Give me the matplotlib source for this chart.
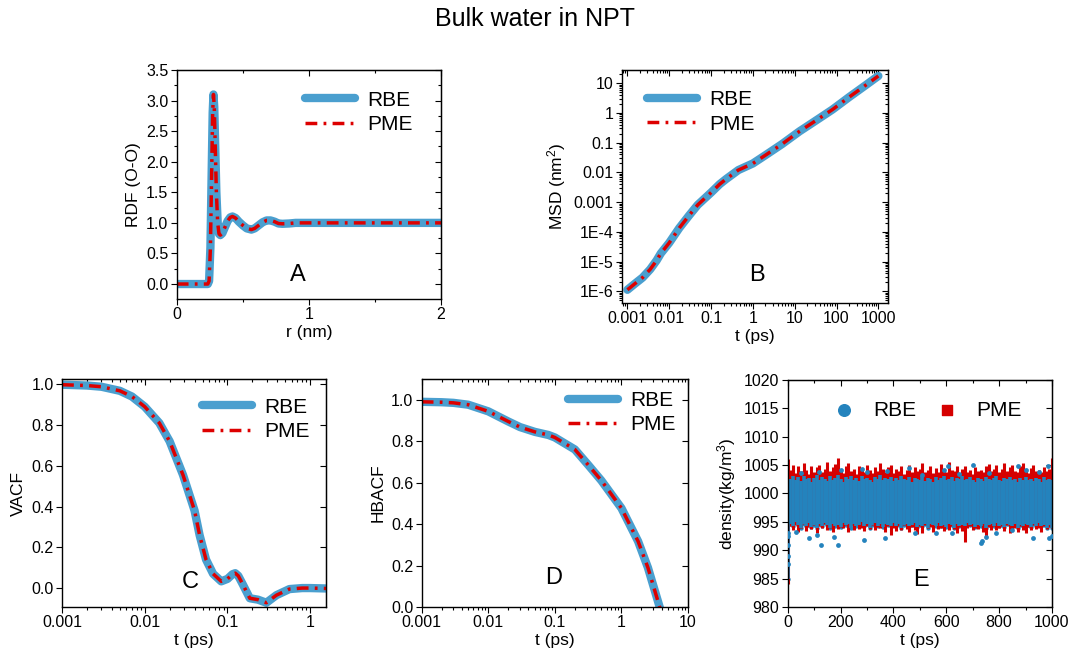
import numpy as np
import matplotlib
matplotlib.use("Agg")
import matplotlib.pyplot as plt

plt.rcParams['font.family'] = ['Liberation Sans', 'DejaVu Sans']
plt.rcParams['mathtext.fontset'] = 'custom'
plt.rcParams['mathtext.rm'] = 'Liberation Sans'
plt.rcParams['mathtext.it'] = 'Liberation Sans:italic'

# --- A: radial distribution function O-O
rdf_r = [0.0, 0.235, 0.245, 0.255, 0.265, 0.272, 0.278, 0.284, 0.292, 0.300,
         0.310, 0.320, 0.330, 0.345, 0.365, 0.385, 0.405, 0.422, 0.445, 0.47,
         0.50, 0.53, 0.565, 0.59, 0.62, 0.65, 0.68, 0.71, 0.74, 0.77,
         0.80, 0.85, 0.90, 1.0, 2.0]
rdf_g = [0.0, 0.0, 0.05, 0.6, 1.9, 2.8, 3.1, 2.9, 2.2, 1.5,
         1.0, 0.82, 0.80, 0.83, 0.93, 1.03, 1.09, 1.105, 1.08, 1.02,
         0.96, 0.91, 0.89, 0.91, 0.96, 1.01, 1.04, 1.04, 1.02, 0.99,
         0.985, 0.99, 1.0, 1.0, 1.0]

# --- B: mean square displacement
msd_t = [0.001, 0.0015, 0.0023, 0.0035, 0.005, 0.0063, 0.01, 0.0174, 0.03, 0.048,
         0.1, 0.16, 0.23, 0.45, 1, 2, 5, 13, 30, 80, 200, 500, 1000]
msd_v = [1.13e-6, 1.8e-6, 2.9e-6, 5.5e-6, 1.1e-5, 1.9e-5, 4.3e-5, 1.35e-4, 3.6e-4, 8.1e-4,
         2.1e-3, 4.0e-3, 6.0e-3, 1.2e-2, 2.0e-2, 3.8e-2, 9.0e-2, 0.24, 0.52, 1.3, 3.4, 8.6, 17.5]

# --- C: velocity autocorrelation
vacf_t = [0.001, 0.002, 0.003, 0.005, 0.007, 0.01, 0.015, 0.02, 0.029, 0.04,
          0.046, 0.055, 0.067, 0.084, 0.1, 0.115, 0.124, 0.135, 0.154, 0.186,
          0.234, 0.295, 0.39, 0.56, 0.8, 1.0, 1.55]
vacf_v = [0.998, 0.994, 0.988, 0.968, 0.94, 0.89, 0.81, 0.72, 0.555, 0.38,
          0.26, 0.14, 0.07, 0.033, 0.045, 0.068, 0.073, 0.06, 0.016, -0.05,
          -0.057, -0.072, -0.035, -0.005, 0.0, 0.0, -0.002]

# --- D: hydrogen bond autocorrelation
hb_t = [0.001, 0.002, 0.003, 0.005, 0.01, 0.02, 0.03, 0.05, 0.08, 0.1,
        0.2, 0.316, 0.5, 1.0, 1.78, 2.5, 3.3, 3.75, 4.0]
hb_v = [0.99, 0.988, 0.985, 0.976, 0.944, 0.895, 0.868, 0.845, 0.83, 0.818,
        0.76, 0.686, 0.61, 0.477, 0.317, 0.19, 0.06, 0.0, -0.03]

# --- E: density, envelope every 10 ps
dens_t = np.arange(0, 1001, 10)
pme_hi = [1006.0, 1004.2, 1005.1, 1003.6, 1004.8, 1003.9, 1005.4, 1004.1, 1003.5, 1004.9,
          1003.8, 1004.6, 1005.0, 1003.7, 1004.3, 1005.6, 1003.9, 1004.7, 1005.2, 1006.3,
          1004.0, 1003.6, 1004.8, 1005.3, 1003.9, 1004.4, 1003.5, 1004.9, 1004.1, 1003.7,
          1005.0, 1004.2, 1003.6, 1004.6, 1003.9, 1005.4, 1004.3, 1003.8, 1004.7, 1005.1,
          1003.6, 1004.4, 1003.9, 1004.8, 1003.5, 1004.2, 1005.0, 1003.8, 1004.6, 1003.9,
          1004.4, 1005.3, 1003.7, 1004.1, 1004.9, 1003.6, 1004.5, 1003.8, 1005.2, 1004.0,
          1003.7, 1005.5, 1004.2, 1003.9, 1004.8, 1003.6, 1004.3, 1004.9, 1003.8, 1004.1,
          1003.5, 1004.6, 1003.9, 1004.2, 1003.7, 1004.8, 1005.2, 1003.9, 1004.4, 1005.0,
          1003.8, 1004.3, 1005.4, 1003.9, 1004.7, 1005.1, 1004.0, 1003.7, 1004.9, 1005.3,
          1004.1, 1003.6, 1004.5, 1005.0, 1003.9, 1004.2, 1003.7, 1004.6, 1003.9, 1004.4, 1006.2]
pme_lo = [984.0, 994.2, 993.6, 994.5, 993.2, 994.0, 994.6, 993.4, 994.1, 993.8,
          994.5, 993.1, 994.3, 993.9, 994.6, 993.5, 994.0, 993.3, 994.4, 993.7,
          994.1, 993.9, 994.5, 993.2, 994.2, 993.6, 994.4, 993.8, 994.0, 993.4,
          994.3, 993.7, 994.5, 993.5, 994.1, 993.9, 994.4, 993.3, 994.2, 992.6,
          994.0, 993.4, 994.3, 993.6, 994.5, 993.8, 993.2, 994.1, 993.5, 992.8,
          994.2, 993.0, 994.4, 993.9, 994.1, 993.3, 994.5, 993.7, 994.0, 993.4,
          994.2, 993.6, 994.3, 993.8, 993.1, 994.1, 993.4, 991.5, 993.9, 994.2,
          993.5, 994.0, 993.7, 994.4, 993.2, 992.4, 994.1, 993.6, 994.3, 993.5,
          993.9, 994.2, 993.4, 994.5, 993.1, 993.8, 994.0, 993.3, 994.2, 993.6,
          993.0, 994.1, 993.5, 994.4, 993.8, 994.0, 993.2, 994.3, 993.7, 994.1, 993.9]
rbe_hi = [1002.0, 1002.6, 1003.1, 1002.4, 1002.9, 1002.2, 1003.0, 1002.5, 1002.8, 1002.1,
          1002.7, 1003.2, 1002.3, 1002.9, 1002.6, 1002.2, 1003.0, 1002.4, 1002.8, 1003.3,
          1002.5, 1002.1, 1002.9, 1002.6, 1003.1, 1002.3, 1002.7, 1002.2, 1003.0, 1002.5,
          1002.8, 1002.4, 1002.1, 1002.9, 1002.6, 1003.2, 1002.3, 1002.7, 1002.5, 1002.9,
          1002.2, 1002.8, 1002.4, 1003.0, 1002.6, 1002.3, 1002.9, 1002.1, 1002.7, 1002.5,
          1002.4, 1003.0, 1002.2, 1002.8, 1002.6, 1002.1, 1002.9, 1002.4, 1002.7, 1003.1,
          1002.3, 1002.6, 1002.9, 1002.2, 1002.8, 1002.5, 1003.0, 1002.3, 1002.6, 1002.9,
          1002.4, 1002.1, 1002.8, 1002.5, 1002.2, 1002.9, 1002.6, 1002.3, 1002.7, 1003.0,
          1002.4, 1002.2, 1002.8, 1002.5, 1002.9, 1002.3, 1002.6, 1002.1, 1002.7, 1002.4,
          1002.9, 1002.3, 1002.6, 1002.2, 1002.8, 1002.5, 1002.1, 1002.9, 1002.4, 1002.6, 1002.3]
rbe_lo = [985.0, 994.6, 994.2, 994.9, 994.4, 994.0, 994.7, 994.3, 994.8, 994.1,
          994.5, 993.9, 994.6, 994.2, 994.8, 994.4, 994.0, 994.7, 994.3, 994.5,
          994.1, 994.8, 994.4, 994.6, 994.0, 994.7, 994.3, 994.5, 994.9, 994.2,
          994.6, 994.0, 994.4, 994.8, 994.3, 994.6, 994.1, 994.7, 994.4, 994.2,
          994.8, 994.3, 994.6, 994.0, 994.5, 994.7, 994.2, 994.4, 994.8, 994.1,
          994.5, 994.3, 994.7, 994.0, 994.6, 994.4, 994.2, 994.8, 994.3, 994.5,
          994.1, 994.6, 994.4, 994.0, 994.7, 994.3, 994.5, 994.2, 994.8, 994.4,
          994.6, 994.1, 994.5, 994.3, 994.7, 994.0, 994.4, 994.6, 994.2, 994.8,
          994.3, 994.5, 994.1, 994.7, 994.4, 994.2, 994.6, 994.0, 994.5, 994.3,
          994.7, 994.4, 994.1, 994.6, 994.3, 994.8, 994.2, 994.5, 994.0, 994.4, 993.9]
rbe_out_t = [0, 0, 0, 0, 2, 30, 50, 80, 110, 120, 125, 175, 190, 200, 280, 290, 300, 370, 375, 460,
             480, 510, 560, 590, 605, 620, 650, 700, 730, 735, 750, 760, 790, 850, 870, 900,
             930, 950, 985, 990, 1000]
rbe_out_y = [989.0, 991.0, 993.0, 987.5, 992.5, 993.3, 1003.6, 992.2, 992.7, 1003.8, 991.0, 992.3,
             991.0, 1004.1, 1004.3, 991.8, 1003.7, 992.1, 1004.0, 1004.5, 993.1, 1003.2, 993.0,
             1004.2, 1004.8, 993.1, 1003.5, 1005.0, 991.2, 991.6, 992.4, 1003.6, 993.0, 993.5,
             1004.8, 1004.2, 992.2, 1003.8, 1004.8, 992.1, 992.5]

BLUE = '#4a9fcf'
RED = '#dd0000'
EBLUE = '#2483bd'
ERED = '#d50000'
DASH = (0, (3.4, 1.8, 0.8, 1.8))


def log_minor(lo, hi):
    return [k * 10.0 ** d for d in range(-8, 5) for k in range(2, 10) if lo <= k * 10.0 ** d <= hi]


def setup(ax, xmaj, xlab, xmin, ymaj, ylab, ymin):
    ax.set_xticks(xmaj, labels=xlab)
    ax.set_xticks(xmin, minor=True)
    ax.set_yticks(ymaj, labels=ylab)
    ax.set_yticks(ymin, minor=True)
    ax.tick_params(which='both', direction='out', labelsize=11.5, width=0.8, pad=2)
    ax.tick_params(which='major', length=4)
    ax.tick_params(which='minor', length=2.5)
    top = ax.secondary_xaxis('top')
    top.set_xticks(xmaj, labels=[])
    top.set_xticks(xmin, minor=True)
    right = ax.secondary_yaxis('right')
    right.set_yticks(ymaj, labels=[])
    right.set_yticks(ymin, minor=True)
    for s in (top, right):
        s.tick_params(which='both', direction='in', width=0.8)
        s.tick_params(which='major', length=4)
        s.tick_params(which='minor', length=2.5)
    for sp in ax.spines.values():
        sp.set_linewidth(1.0)


def curves(ax, x, y):
    ax.plot(x, y, color=BLUE, lw=6, solid_capstyle='round', label='RBE')
    ax.plot(x, y, color=RED, lw=2.5, linestyle=DASH, label='PME')


def legend(ax, x, y):
    ax.legend(loc='upper left', bbox_to_anchor=(x, y), frameon=False, fontsize=15,
              handlelength=2.4, handletextpad=0.6, labelspacing=0.27, borderpad=0,
              borderaxespad=0)


fig = plt.figure(figsize=(10.73, 6.52), dpi=100)
fig.text(0.499, 0.971, 'Bulk water in NPT', ha='center', va='center', fontsize=18)

# A
axA = fig.add_axes([0.1647, 0.5414, 0.2463, 0.3512])
curves(axA, rdf_r, rdf_g)
axA.set_xlim(0, 2)
axA.set_ylim(-0.245, 3.5)
ya = [0, 0.5, 1.0, 1.5, 2.0, 2.5, 3.0, 3.5]
setup(axA, [0, 1, 2], ['0', '1', '2'], [0.5, 1.5],
      ya, ['%.1f' % v for v in ya], [0.25, 0.75, 1.25, 1.75, 2.25, 2.75, 3.25])
axA.set_xlabel('r (nm)', fontsize=12.5, labelpad=2)
axA.set_ylabel('RDF (O-O)', fontsize=12.5)
legend(axA, 0.485, 0.91)
axA.text(0.459, 0.105, 'A', transform=axA.transAxes, ha='center', va='center', fontsize=17)

# B
axB = fig.add_axes([0.5794, 0.5353, 0.2479, 0.3574])
curves(axB, msd_t, msd_v)
axB.set_xscale('log')
axB.set_yscale('log')
axB.set_xlim(7.3e-4, 1670)
axB.set_ylim(4.07e-7, 27.8)
setup(axB, [1e-3, 1e-2, 1e-1, 1, 10, 100, 1000],
      ['0.001', '0.01', '0.1', '1', '10', '100', '1000'], log_minor(7.3e-4, 1670),
      [1e-6, 1e-5, 1e-4, 1e-3, 1e-2, 1e-1, 1, 10],
      ['1E-6', '1E-5', '1E-4', '0.001', '0.01', '0.1', '1', '10'], log_minor(4.07e-7, 27.8))
axB.set_xlabel('t (ps)', fontsize=12.5, labelpad=2)
axB.set_ylabel('MSD (nm$^2$)', fontsize=12.5)
legend(axB, 0.095, 0.914)
axB.text(0.509, 0.12, 'B', transform=axB.transAxes, ha='center', va='center', fontsize=17)

# C
axC = fig.add_axes([0.0578, 0.069, 0.246, 0.3497])
curves(axC, vacf_t, vacf_v)
axC.set_xscale('log')
axC.set_xlim(0.001, 1.55)
axC.set_ylim(-0.093, 1.026)
yc = [0, 0.2, 0.4, 0.6, 0.8, 1.0]
setup(axC, [1e-3, 1e-2, 1e-1, 1], ['0.001', '0.01', '0.1', '1'], log_minor(0.001, 1.55),
      yc, ['%.1f' % v for v in yc], [])
axC.set_xlabel('t (ps)', fontsize=12.5, labelpad=2)
axC.set_ylabel('VACF', fontsize=12.5)
legend(axC, 0.53, 0.918)
axC.text(0.485, 0.11, 'C', transform=axC.transAxes, ha='center', va='center', fontsize=17)

# D
axD = fig.add_axes([0.393, 0.069, 0.2482, 0.3497])
curves(axD, hb_t, hb_v)
axD.set_xscale('log')
axD.set_xlim(0.001, 10)
axD.set_ylim(0, 1.1)
setup(axD, [1e-3, 1e-2, 1e-1, 1, 10], ['0.001', '0.01', '0.1', '1', '10'], log_minor(0.001, 10),
      yc, ['%.1f' % v for v in yc], [])
axD.set_xlabel('t (ps)', fontsize=12.5, labelpad=2)
axD.set_ylabel('HBACF', fontsize=12.5)
legend(axD, 0.549, 0.948)
axD.text(0.497, 0.127, 'D', transform=axD.transAxes, ha='center', va='center', fontsize=17)

# E
axE = fig.add_axes([0.7341, 0.069, 0.2463, 0.3482])
axE.vlines(dens_t, pme_lo, pme_hi, color=ERED, lw=2.2)
axE.vlines(dens_t, rbe_lo, rbe_hi, color=EBLUE, lw=2.6)
axE.scatter(dens_t, rbe_hi, s=10, color=EBLUE, lw=0)
axE.scatter(dens_t, rbe_lo, s=10, color=EBLUE, lw=0)
axE.scatter(rbe_out_t, rbe_out_y, s=12, color=EBLUE, lw=0, zorder=3)
axE.scatter([], [], s=70, marker='o', color=EBLUE, label='RBE')
axE.scatter([], [], s=60, marker='s', color=ERED, label='PME')
axE.set_xlim(0, 1000)
axE.set_ylim(980, 1020)
ye = list(range(980, 1021, 5))
setup(axE, [0, 200, 400, 600, 800, 1000], ['0', '200', '400', '600', '800', '1000'],
      [100, 300, 500, 700, 900], ye, [str(v) for v in ye], [])
axE.set_xlabel('t (ps)', fontsize=12.5, labelpad=2)
axE.set_ylabel('density(kg/m$^3$)', fontsize=12.5)
axE.legend(loc='upper left', bbox_to_anchor=(0.18, 0.908), frameon=False, fontsize=15, ncol=2,
           handlelength=0.8, handletextpad=1.0, columnspacing=1.1, borderpad=0, borderaxespad=0)
axE.text(0.504, 0.119, 'E', transform=axE.transAxes, ha='center', va='center', fontsize=17)

fig.savefig('out.png', dpi=100)
